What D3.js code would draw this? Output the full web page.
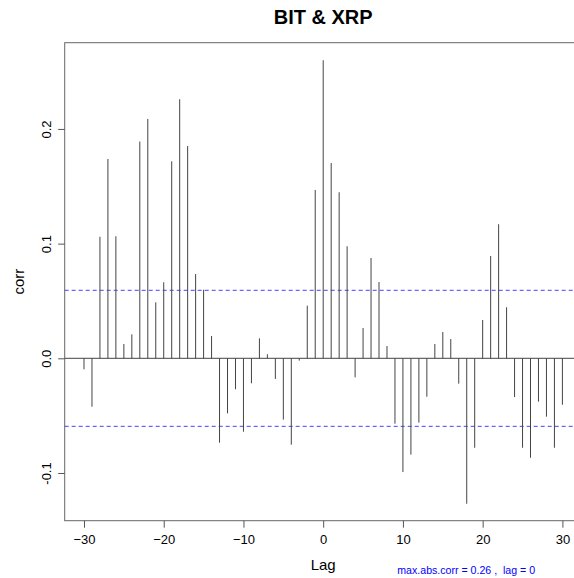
<!DOCTYPE html>
<html>
<head>
<meta charset="utf-8">
<script src="https://cdn.jsdelivr.net/npm/d3@7"></script>
<style>
  html, body { margin: 0; padding: 0; background: #fff; }
  svg { display: block; font-family: "Liberation Sans", Arial, sans-serif; }
</style>
</head>
<body>
<div id="chart"></div>
<script>
// ---- data ----
const lags = d3.range(-30, 31);
const corrValues = [
  -0.0096, -0.0422, 0.106, 0.1738, 0.1064, 0.0125, 0.0209, 0.189, 0.2087, 0.0488,
  0.0663, 0.1718, 0.2259, 0.1851, 0.0735, 0.0598, 0.0194, -0.0736, -0.048, -0.027,
  -0.064, -0.0218, 0.0174, 0.0035, -0.018, -0.0535, -0.0753, -0.002, 0.0459, 0.1468,
  0.2599, 0.1703, 0.1448, 0.0977, -0.0166, 0.0264, 0.0875, 0.0665, 0.0107, -0.057,
  -0.0992, -0.084, -0.0561, -0.0335, 0.0125, 0.0229, 0.0168, -0.0221, -0.1268, -0.078,
  0.0334, 0.0892, 0.1169, 0.0445, -0.0338, -0.078, -0.0867, -0.0378, -0.0509, -0.078,
  -0.0405
];
const ciBound = 0.0593;
const xTicks = [-30, -20, -10, 0, 10, 20, 30];
const yTicks = [-0.1, 0.0, 0.1, 0.2];
const yTickLabels = ["-0.1", "0.0", "0.1", "0.2"];
const titleText = "BIT & XRP";
const xLabel = "Lag";
const yLabel = "corr";
const noteText = "max.abs.corr = 0.26 ,  lag = 0";

// ---- layout ----
const W = 574, H = 578;
const plot = { left: 64.7, right: 581.7, top: 42.7, bottom: 520.7 };

const x = d3.scaleLinear().domain([-32.42, 32.42]).range([plot.left, plot.right]);
const y = d3.scaleLinear().domain([-0.1416, 0.2752]).range([plot.bottom, plot.top]);

const svg = d3.select("#chart").append("svg")
  .attr("width", W).attr("height", H);

// box
svg.append("rect")
  .attr("x", plot.left).attr("y", plot.top)
  .attr("width", plot.right - plot.left).attr("height", plot.bottom - plot.top)
  .attr("fill", "none").attr("stroke", "#666").attr("stroke-width", 1);

// zero line
svg.append("line")
  .attr("x1", plot.left).attr("x2", plot.right)
  .attr("y1", y(0)).attr("y2", y(0))
  .attr("stroke", "#444").attr("stroke-width", 1);

// confidence lines
[ciBound, -ciBound].forEach(v => {
  svg.append("line")
    .attr("x1", plot.left).attr("x2", plot.right)
    .attr("y1", y(v)).attr("y2", y(v))
    .attr("stroke", "#4444ff").attr("stroke-width", 1)
    .attr("stroke-dasharray", "4,3");
});

// bars
svg.append("g").selectAll("line")
  .data(lags.map((l, i) => ({ lag: l, v: corrValues[i] })))
  .join("line")
  .attr("x1", d => x(d.lag)).attr("x2", d => x(d.lag))
  .attr("y1", y(0)).attr("y2", d => y(d.v))
  .attr("stroke", "#444").attr("stroke-width", 1);

// x axis
const xAxis = d3.axisBottom(x).tickValues(xTicks).tickSize(7).tickSizeOuter(0)
  .tickFormat(d3.format("d"));
const gx = svg.append("g").attr("transform", `translate(0,${plot.bottom})`).call(xAxis);
gx.select(".domain").remove();
gx.selectAll(".tick line").attr("stroke", "#555");
gx.selectAll(".tick text").attr("font-size", 13).attr("fill", "#000")
  .attr("font-family", "Liberation Sans, Arial, sans-serif")
  .attr("dy", null).attr("y", 23.6);

// y axis
const yAxis = d3.axisLeft(y).tickValues(yTicks).tickSize(6.5).tickSizeOuter(0)
  .tickFormat((d, i) => yTickLabels[i]);
const gy = svg.append("g").attr("transform", `translate(${plot.left},0)`).call(yAxis);
gy.select(".domain").remove();
gy.selectAll(".tick line").attr("stroke", "#555");
gy.selectAll(".tick text")
  .attr("font-size", 13).attr("fill", "#000")
  .attr("font-family", "Liberation Sans, Arial, sans-serif")
  .attr("x", null).attr("dy", null)
  .attr("text-anchor", "middle")
  .attr("transform", "translate(-14,0) rotate(-90)");

// title
svg.append("text")
  .attr("x", (plot.left + plot.right) / 2).attr("y", 24)
  .attr("text-anchor", "middle")
  .attr("font-size", 20).attr("font-weight", "bold")
  .text(titleText);

// x label
svg.append("text")
  .attr("x", x(0)).attr("y", 570)
  .attr("text-anchor", "middle").attr("font-size", 15)
  .text(xLabel);

// y label
svg.append("text")
  .attr("transform", `translate(24,${(plot.top + plot.bottom) / 2}) rotate(-90)`)
  .attr("text-anchor", "middle").attr("font-size", 15)
  .text(yLabel);

// note
svg.append("text")
  .attr("x", 397.3).attr("y", 574)
  .attr("text-anchor", "start").attr("font-size", 10.6)
  .attr("fill", "#0000ff")
  .style("white-space", "pre")
  .attr("xml:space", "preserve")
  .text(noteText);
</script>
</body>
</html>
